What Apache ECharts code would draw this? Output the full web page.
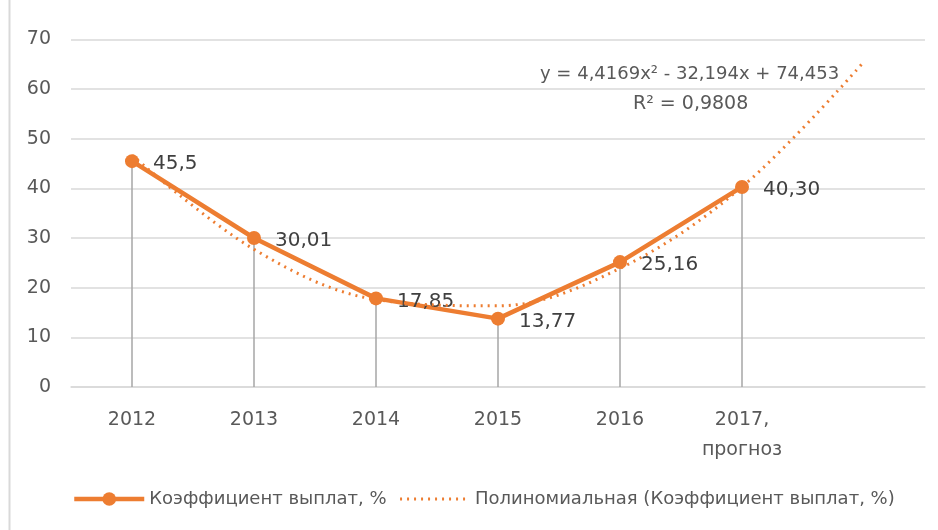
<!DOCTYPE html>
<html><head><meta charset="utf-8">
<script src="https://cdn.jsdelivr.net/npm/echarts@6/dist/echarts.min.js"></script>
<style>html,body{margin:0;padding:0;background:#fff}#c{width:938px;height:530px}</style>
</head><body><div id="c"></div>
<script>
const categories = ['2012', '2013', '2014', '2015', '2016', '2017,\nпрогноз', ''];
const payoutValues = [45.5, 30.01, 17.85, 13.77, 25.16, 40.30, null];
const payoutLabels = ['45,5', '30,01', '17,85', '13,77', '25,16', '40,30', ''];
const trendValues = [46.68, 27.73, 17.62, 16.35, 23.90, 40.30, 65.53];
const yTicks = [0, 10, 20, 30, 40, 50, 60, 70];
const seriesName = 'Коэффициент выплат, %';
const trendName = 'Полиномиальная (Коэффициент выплат, %)';
const equationText = 'y = 4,4169x² - 32,194x + 74,453';
const r2Text = 'R² = 0,9808';

const ORANGE = '#ED7D31';
const TEXT = '#595959';
const FONT = 'DejaVu Sans';

const chart = echarts.init(document.getElementById('c'), null, {renderer: 'canvas'});
chart.setOption({
  animation: false,
  backgroundColor: '#fff',
  textStyle: {fontFamily: FONT},
  grid: {left: 71, right: 13, top: 39.5, bottom: 143, containLabel: false},
  xAxis: {
    type: 'category', data: categories, boundaryGap: true,
    axisLine: {lineStyle: {color: '#D9D9D9', width: 1.5}},
    axisTick: {show: false},
    axisLabel: {color: TEXT, fontSize: 19, fontFamily: FONT, margin: 18, lineHeight: 30}
  },
  yAxis: {
    type: 'value', min: yTicks[0], max: yTicks[yTicks.length - 1], interval: 10,
    axisLine: {show: false}, axisTick: {show: false},
    splitLine: {lineStyle: {color: '#D9D9D9', width: 1.5}},
    axisLabel: {color: TEXT, fontSize: 19, fontFamily: FONT, margin: 20}
  },
  legend: {
    left: 67, top: 485, itemWidth: 70, itemHeight: 17, itemGap: 12,
    textStyle: {color: TEXT, fontSize: 18, fontFamily: FONT},
    data: [
      {name: seriesName, lineStyle: {width: 4.5}},
      {name: trendName, itemStyle: {opacity: 0}, lineStyle: {width: 3}}
    ]
  },
  graphic: [
    {type: 'line', shape: {x1: 9.5, y1: 0, x2: 9.5, y2: 530}, style: {stroke: '#D9D9D9', lineWidth: 2}},
    {type: 'text', left: 540, top: 65, style: {text: equationText, fill: TEXT, font: '18px ' + FONT}},
    {type: 'text', left: 633, top: 95, style: {text: r2Text, fill: TEXT, font: '19px ' + FONT}}
  ],
  series: [
    {
      name: 'drop', type: 'bar', data: payoutValues, barWidth: 1.5, silent: true,
      itemStyle: {color: '#A6A6A6'}, legendHoverLink: false, z: 1
    },
    {
      name: seriesName, type: 'line', data: payoutValues, z: 3,
      lineStyle: {color: ORANGE, width: 4.5},
      itemStyle: {color: ORANGE},
      symbol: 'circle', symbolSize: 14,
      label: {
        show: true, position: 'right', distance: 14, offset: [0, 3],
        color: '#404040', fontSize: 20, fontFamily: FONT,
        formatter: p => payoutLabels[p.dataIndex]
      }
    },
    {
      name: trendName, type: 'line', data: trendValues, z: 4,
      smooth: 0.35, symbol: 'none',
      lineStyle: {color: ORANGE, width: 3, type: [2, 5]},
      itemStyle: {color: ORANGE}
    }
  ]
});
</script></body></html>
